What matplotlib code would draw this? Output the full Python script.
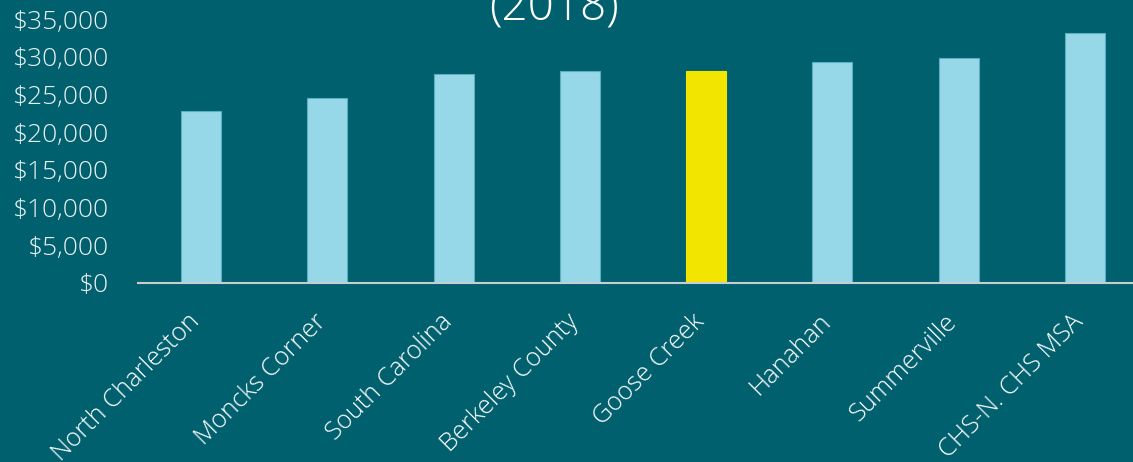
import matplotlib.pyplot as plt
import matplotlib.transforms as mtransforms
from matplotlib.ticker import FuncFormatter

places = ["North Charleston", "Moncks Corner", "South Carolina", "Berkeley County",
          "Goose Creek", "Hanahan", "Summerville", "CHS-N. CHS MSA"]
income = [22800, 24500, 27750, 28070, 28100, 29300, 29800, 33100]
highlight = "Goose Creek"

bg = "#00606E"
bar_blue = "#97D8E8"
bar_yellow = "#F2E500"

plt.rcParams['font.family'] = ['Open Sans', 'DejaVu Sans']

fig = plt.figure(figsize=(11.33, 4.62), dpi=100, facecolor=bg)
ax = fig.add_axes([138 / 1133, 1 - 283 / 462, 1010 / 1133, 264 / 462], facecolor=bg)

colors = [bar_yellow if p == highlight else bar_blue for p in places]
edges = [bar_yellow if p == highlight else "#5AAFC0" for p in places]
ax.bar(range(len(places)), income, width=0.317, color=colors, edgecolor=edges, linewidth=0.8, zorder=2)

ax.set_xlim(-0.5, len(places) - 0.5)
ax.set_ylim(0, 35000)
ax.set_yticks(range(0, 35001, 5000))
ax.yaxis.set_major_formatter(FuncFormatter(lambda v, p: f"${v:,.0f}"))
ax.set_xticks(range(len(places)))
ax.set_xticklabels(places, rotation=45, ha='right', rotation_mode='anchor',
                   fontsize=18.3, color='white', fontweight='light')
for lab in ax.get_yticklabels():
    lab.set_fontsize(19)
    lab.set_color('#E8F0F2')
    lab.set_fontweight('light')

ax.tick_params(axis='both', length=0)
ax.tick_params(axis='x', pad=20)
ax.tick_params(axis='y', pad=21)
for side in ['top', 'right', 'left']:
    ax.spines[side].set_visible(False)
ax.spines['bottom'].set_color('#C8CED0')
ax.spines['bottom'].set_linewidth(1.5)
ax.spines['bottom'].set_zorder(3)

fig.text(554 / 1133, 1 - 21 / 462, "(2018)", ha='center', va='baseline', fontsize=33,
         color='white', fontweight='light')

# nudge rotated labels left so their ends sit just under the bars
shift = mtransforms.ScaledTranslation(-10 / 72, 1 / 72, fig.dpi_scale_trans)
for tick in ax.xaxis.get_major_ticks():
    tick.label1.set_transform(tick.label1.get_transform() + shift)

fig.savefig("out.png", dpi=100, facecolor=bg)
